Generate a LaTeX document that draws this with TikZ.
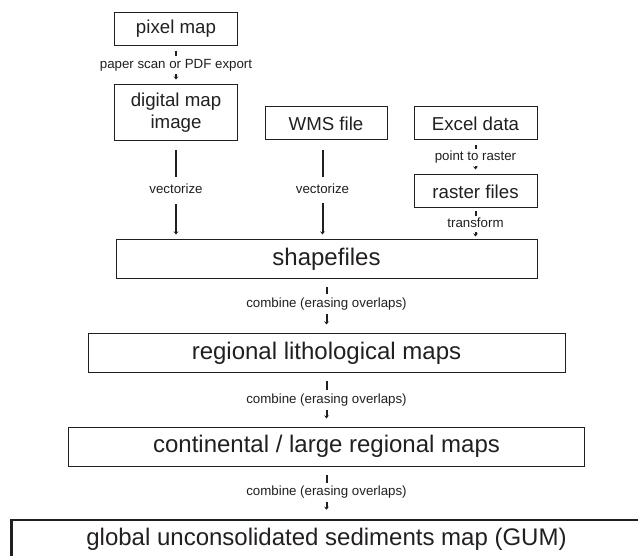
\documentclass[tikz,border=0pt]{standalone}
\usepackage{fontspec}
\setmainfont{Liberation Sans}
\usepackage{tikz}
\usetikzlibrary{arrows.meta,positioning,calc}
\usepackage{xcolor}
\definecolor{mapblack}{RGB}{35,31,32}
\tikzstyle{arrow} = [line width=2pt,-{Stealth[length=3pt,width=4.5pt]},color=mapblack,shorten <=5pt,shorten >=5pt]
\tikzstyle{mapbox} = [rectangle, draw=mapblack, line width=1pt, inner sep=0pt, minimum height=33pt, text=mapblack, align=center, font=\fontsize{18.7}{22}\selectfont]
\tikzstyle{bigbox} = [mapbox, minimum height=39pt, font=\fontsize{24}{28}\selectfont]
\tikzstyle{arrowlabel} = [fill=white, inner xsep=1pt, inner ysep=2.5pt, text height=9.6pt, text depth=2.9pt, text=mapblack, font=\fontsize{13.3}{15}\selectfont]

\begin{document}
\begin{tikzpicture}[x=1pt, y=-1pt]
    \useasboundingbox (0,0) rectangle (638,556);
    \clip (0,0) rectangle (638,556);

    % Source nodes
    \node[mapbox, minimum width=123pt] (pixmap) at (176,29) {pixel map};
    \node[mapbox, minimum width=123pt, minimum height=56pt] (digimg) at (176,113) {digital map\\image};
    \node[mapbox, minimum width=122pt] (wms) at (326,123.5) {WMS file};
    \node[mapbox, minimum width=123pt] (excel) at (475.5,123.5) {Excel data};
    \node[mapbox, minimum width=123pt] (raster) at (475.5,191.5) {raster files};

    % Merged layers
    \node[bigbox, minimum width=421pt] (shape) at (326.5,259.5) {shapefiles};
    \node[bigbox, minimum width=477pt] (regional) at (326.5,353.5) {regional lithological maps};
    \node[bigbox, minimum width=516pt] (continental) at (326.5,446.5) {continental / large regional maps};
    \node[bigbox, minimum width=630pt, line width=2.5pt] (gum) at (326.5,539.5) {global unconsolidated sediments map (GUM)};

    % Connections
    \draw[arrow] (pixmap) -- (digimg) node[arrowlabel, midway, inner ysep=3pt] {paper scan or PDF export};
    \draw[arrow, shorten <=9pt] (digimg.south) -- (digimg.south |- shape.north) node[arrowlabel, midway, inner ysep=7pt] {vectorize};
    \draw[arrow, shorten <=10pt] ([xshift=-3.5pt]wms.south) -- ([xshift=-3.5pt]wms.south |- shape.north) node[arrowlabel, midway, inner ysep=7pt] {vectorize};
    \draw[arrow] (excel) -- (raster) node[arrowlabel, midway] {point to raster};
    \draw[arrow, shorten <=3pt, shorten >=3pt] (raster.south) -- (raster.south |- shape.north) node[arrowlabel, midway, inner ysep=2pt] {transform};
    \draw[arrow, shorten <=8pt, shorten >=9pt] (shape) -- (regional) node[arrowlabel, pos=0.45, inner ysep=3.5pt] {combine (erasing overlaps)};
    \draw[arrow, shorten <=8pt, shorten >=8pt] (regional) -- (continental) node[arrowlabel, midway, inner ysep=3.5pt] {combine (erasing overlaps)};
    \draw[arrow, shorten <=8pt, shorten >=9pt] (continental) -- (gum) node[arrowlabel, midway, inner ysep=3.5pt] {combine (erasing overlaps)};
\end{tikzpicture}
\end{document}
